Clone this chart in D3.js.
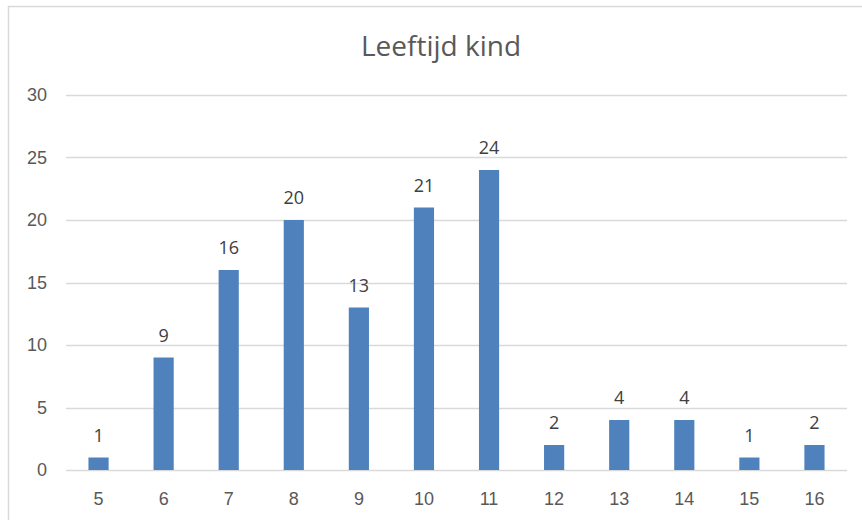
<!DOCTYPE html>
<html>
<head>
<meta charset="utf-8">
<script src="https://cdn.jsdelivr.net/npm/d3@7"></script>
<style>
  body { margin: 0; background: #fff; overflow: hidden; }
  svg { display: block; font-family: "Open Sans", "Noto Sans", sans-serif; }
</style>
</head>
<body>
<svg id="chart"></svg>
<script>
// Data: leeftijd (age) vs count
const ages = ["5", "6", "7", "8", "9", "10", "11", "12", "13", "14", "15", "16"];
const counts = [1, 9, 16, 20, 13, 21, 24, 2, 4, 4, 1, 2];
const yTicks = [0, 5, 10, 15, 20, 25, 30];
const title = "Leeftijd kind";

const width = 862, height = 520;
const margin = { top: 95, right: 15, bottom: 50, left: 66 };
const innerWidth = 847 - margin.left;
const innerHeight = 470 - margin.top;

const svg = d3.select('#chart')
    .attr('width', width)
    .attr('height', height);

// chart border: only top and left edge are visible in the screenshot
svg.append('path')
    .attr('d', `M8.5,${height} V6.5 H${width}`)
    .attr('fill', 'none')
    .attr('stroke', '#d9d9d9')
    .attr('stroke-width', 1.5);

const chart = svg.append('g')
    .attr('transform', `translate(${margin.left}, ${margin.top})`);

const x = d3.scaleBand()
    .domain(ages)
    .range([0, innerWidth])
    .paddingInner(0.69)
    .paddingOuter(0.345);

const y = d3.scaleLinear()
    .domain([0, 30])
    .range([innerHeight, 0]);

// gridlines
chart.selectAll('.grid')
    .data(yTicks)
    .enter()
    .append('line')
    .attr('class', 'grid')
    .attr('x1', 0)
    .attr('x2', innerWidth)
    .attr('y1', d => Math.round(y(d)) + 0.5)
    .attr('y2', d => Math.round(y(d)) + 0.5)
    .attr('stroke', '#d9d9d9')
    .attr('stroke-width', 1.3);

// y axis labels
const yAxis = d3.axisLeft(y).tickValues(yTicks).tickSize(0).tickPadding(19);
chart.append('g')
    .call(yAxis)
    .call(g => g.select('.domain').remove())
    .selectAll('text')
    .style('font-size', '18px')
    .style('fill', '#595959');

// x axis labels
const xAxis = d3.axisBottom(x).tickSize(0).tickPadding(22);
chart.append('g')
    .attr('transform', `translate(0, ${innerHeight})`)
    .call(xAxis)
    .call(g => g.select('.domain').remove())
    .selectAll('text')
    .style('font-size', '18px')
    .style('fill', '#595959');

const rows = ages.map((a, i) => ({ age: a, count: counts[i] }));

// bars
chart.selectAll('.bar')
    .data(rows)
    .enter()
    .append('rect')
    .attr('class', 'bar')
    .attr('x', d => x(d.age))
    .attr('y', d => y(d.count))
    .attr('width', x.bandwidth())
    .attr('height', d => innerHeight - y(d.count))
    .style('fill', '#4f81bd');

// data labels
chart.selectAll('.label')
    .data(rows)
    .enter()
    .append('text')
    .attr('class', 'label')
    .attr('x', d => x(d.age) + x.bandwidth() / 2)
    .attr('y', d => y(d.count) - 16)
    .attr('text-anchor', 'middle')
    .style('font-size', '18px')
    .style('fill', '#404040')
    .text(d => d.count);

// title
svg.append('text')
    .attr('x', 441)
    .attr('y', 56)
    .attr('text-anchor', 'middle')
    .style('font-size', '28px')
    .style('fill', '#595959')
    .text(title);
</script>
</body>
</html>
